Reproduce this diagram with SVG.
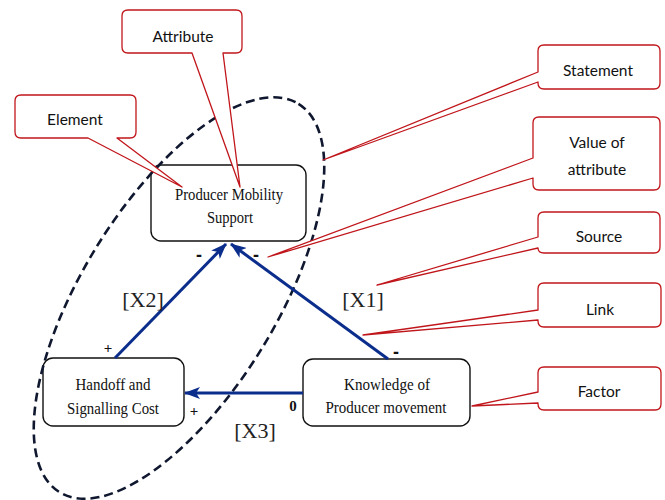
<svg xmlns="http://www.w3.org/2000/svg" width="665" height="500" viewBox="0 0 665 500">
  <style>
    .node { fill: #ffffff; stroke: #111111; stroke-width: 1.4; }
    .ntext { font-family: "Liberation Serif", "Times New Roman", serif; font-size: 17px; fill: #111111; text-anchor: middle; }
    .callout { fill: #ffffff; stroke: #c0161b; stroke-width: 1.3; stroke-linejoin: round; }
    .ctext { font-family: Lato, "Liberation Sans", sans-serif; font-size: 15.5px; fill: #111111; text-anchor: middle; }
    .link { stroke: #0b2d8c; stroke-width: 3; fill: none; }
    .lbl { font-family: "Liberation Serif", "Times New Roman", serif; font-size: 22px; fill: #222222; text-anchor: middle; }
    .sign { font-family: "Liberation Serif", "Times New Roman", serif; font-size: 15px; font-weight: bold; fill: #111111; text-anchor: middle; }
    .dash { font-family: "Liberation Sans", Arial, sans-serif; font-size: 18px; font-weight: bold; fill: #111111; text-anchor: middle; }
    .scope { fill: none; stroke: #101830; stroke-width: 2.6; stroke-dasharray: 9 5; }
  </style>
  <defs>
    <marker id="head" viewBox="0 0 16 12" refX="15" refY="6" markerWidth="16" markerHeight="12" markerUnits="userSpaceOnUse" orient="auto">
      <path d="M0,0 L16,6 L0,12 L4,6 Z" fill="#0b2d8c"/>
    </marker>
  </defs>

  <rect width="665" height="500" fill="#ffffff"/>

  <!-- nodes -->
  <g id="node-pms">
    <rect class="node" x="151" y="165" width="155" height="76" rx="10"/>
    <text class="ntext" x="229" y="200" textLength="108" lengthAdjust="spacingAndGlyphs">Producer Mobility</text>
    <text class="ntext" x="230" y="223" textLength="46" lengthAdjust="spacingAndGlyphs">Support</text>
  </g>
  <g id="node-handoff">
    <rect class="node" x="43" y="358" width="141" height="68" rx="10"/>
    <text class="ntext" x="113" y="390" textLength="75" lengthAdjust="spacingAndGlyphs">Handoff and</text>
    <text class="ntext" x="113" y="414" textLength="92" lengthAdjust="spacingAndGlyphs">Signalling Cost</text>
  </g>
  <g id="node-knowledge">
    <rect class="node" x="303" y="359" width="167" height="67" rx="10"/>
    <text class="ntext" x="387" y="390" textLength="86" lengthAdjust="spacingAndGlyphs">Knowledge of</text>
    <text class="ntext" x="386" y="413" textLength="121" lengthAdjust="spacingAndGlyphs">Producer movement</text>
  </g>

  <!-- scope of the statement -->
  <g id="scope">
    <ellipse class="scope" cx="179" cy="298" rx="228" ry="97" transform="rotate(-58.4 179 298)"/>
  </g>

  <!-- connectors -->
  <g id="connectors">
    <line class="link" x1="115" y1="358" x2="226" y2="244" marker-end="url(#head)"/>
    <line class="link" x1="388" y1="359" x2="231" y2="244" marker-end="url(#head)"/>
    <line class="link" x1="303" y1="393" x2="185" y2="393" marker-end="url(#head)"/>
  </g>

  <!-- link labels and signs -->
  <g id="labels">
    <text class="lbl" x="143" y="307">[X2]</text>
    <text class="lbl" x="363" y="307">[X1]</text>
    <text class="lbl" x="255" y="438">[X3]</text>
    <text class="dash" x="199" y="261">-</text>
    <text class="dash" x="256" y="261">-</text>
    <text class="dash" x="396" y="358">-</text>
    <text class="sign" x="108" y="353">+</text>
    <text class="sign" x="194" y="416">+</text>
    <text class="sign" x="293" y="411" font-size="13">0</text>
  </g>

  <!-- callouts -->
  <g id="callout-attribute">
    <path class="callout" d="M128,10 H236 Q242,10 242,16 V47 Q242,53 236,53 H223 L240,187 L192,53 H128 Q122,53 122,47 V16 Q122,10 128,10 Z"/>
    <text class="ctext" x="183" y="42">Attribute</text>
  </g>
  <g id="callout-element">
    <path class="callout" d="M21,95 H130 Q136,95 136,101 V132 Q136,138 130,138 H117 L182,187 L88,138 H21 Q15,138 15,132 V101 Q15,95 21,95 Z"/>
    <text class="ctext" x="75" y="125">Element</text>
  </g>
  <g id="callout-statement">
    <path class="callout" d="M544,45 H654 Q660,45 660,51 V83 Q660,89 654,89 H544 Q538,89 538,83 V82 L323,160 L538,72 V51 Q538,45 544,45 Z"/>
    <text class="ctext" x="598" y="76">Statement</text>
  </g>
  <g id="callout-value">
    <path class="callout" d="M539,117 H654 Q660,117 660,123 V184 Q660,190 654,190 H539 Q533,190 533,184 V178 L268,257 L533,158 V123 Q533,117 539,117 Z"/>
    <text class="ctext" x="597" y="148">Value of</text>
    <text class="ctext" x="597" y="175">attribute</text>
  </g>
  <g id="callout-source">
    <path class="callout" d="M544,212 H654 Q660,212 660,218 V247 Q660,253 654,253 H544 Q538,253 538,248 L377,285 L538,237 V218 Q538,212 544,212 Z"/>
    <text class="ctext" x="599" y="242">Source</text>
  </g>
  <g id="callout-link">
    <path class="callout" d="M544,283 H655 Q661,283 661,289 V321 Q661,327 655,327 H544 Q538,327 538,321 V320 L363,335 L538,310 V289 Q538,283 544,283 Z"/>
    <text class="ctext" x="600" y="315">Link</text>
  </g>
  <g id="callout-factor">
    <path class="callout" d="M544,367 H655 Q661,367 661,373 V404 Q661,410 655,410 H544 Q538,410 538,404 V403 L472,406 L538,392 V373 Q538,367 544,367 Z"/>
    <text class="ctext" x="599" y="397">Factor</text>
  </g>
</svg>
